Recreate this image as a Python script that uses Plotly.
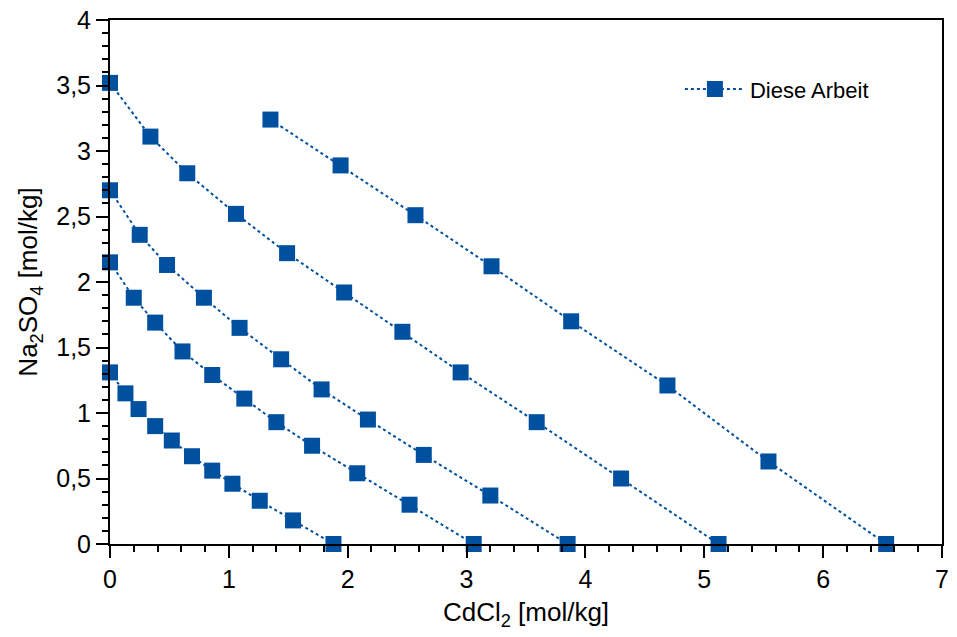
import plotly.graph_objects as go

# CdCl2 [mol/kg] (x) and Na2SO4 [mol/kg] (y) for five series
x1 = [0.00, 0.13, 0.24, 0.38, 0.52, 0.69, 0.86, 1.03, 1.26, 1.54, 1.88]
y1 = [1.31, 1.15, 1.03, 0.90, 0.79, 0.67, 0.56, 0.46, 0.33, 0.18, 0.00]

x2 = [0.00, 0.20, 0.38, 0.61, 0.86, 1.13, 1.40, 1.70, 2.08, 2.52, 3.06]
y2 = [2.15, 1.88, 1.69, 1.47, 1.29, 1.11, 0.93, 0.75, 0.54, 0.30, 0.00]

x3 = [0.00, 0.25, 0.48, 0.79, 1.09, 1.44, 1.78, 2.17, 2.64, 3.20, 3.85]
y3 = [2.70, 2.36, 2.13, 1.88, 1.65, 1.41, 1.18, 0.95, 0.68, 0.37, 0.00]

x4 = [0.00, 0.34, 0.65, 1.06, 1.49, 1.97, 2.46, 2.95, 3.59, 4.30, 5.12]
y4 = [3.52, 3.11, 2.83, 2.52, 2.22, 1.92, 1.62, 1.31, 0.93, 0.50, 0.00]

x5 = [1.35, 1.94, 2.57, 3.21, 3.88, 4.69, 5.54, 6.53]
y5 = [3.24, 2.89, 2.51, 2.12, 1.70, 1.21, 0.63, 0.00]

series_name = "Diese Arbeit"
color = "#0050A0"
FONT = "Liberation Sans, Arial, sans-serif"

fig = go.Figure()
for i, (xs, ys) in enumerate([(x1, y1), (x2, y2), (x3, y3), (x4, y4), (x5, y5)]):
    fig.add_trace(go.Scatter(
        x=xs, y=ys, mode="lines+markers", name=series_name,
        showlegend=(i == 0), legendgroup="a",
        line=dict(color=color, width=2, dash="dot"),
        marker=dict(symbol="square", size=16, color=color, line=dict(width=0)),
        cliponaxis=False,
    ))

axis_common = dict(
    showgrid=False, zeroline=False, showline=True, linecolor="black",
    linewidth=2, mirror=True, ticks="outside", tickcolor="black",
    ticklen=12, tickwidth=1.5, automargin=False,
    tickfont=dict(family=FONT, size=25, color="black"),
)

fig.update_layout(
    width=957, height=637,
    paper_bgcolor="white", plot_bgcolor="white",
    margin=dict(l=110, r=15, t=20, b=93),
    separators=", ",
    font=dict(family=FONT, color="black"),
    xaxis=dict(range=[0, 7], dtick=1, tick0=0,
               minor=dict(dtick=0.2, tick0=0, ticks="outside", ticklen=6, tickcolor="black"),
               title=dict(text="CdCl<sub>2</sub> [mol/kg]", font=dict(family=FONT, size=26), standoff=11),
               **axis_common),
    yaxis=dict(range=[0, 4], dtick=0.5, tick0=0,
               minor=dict(dtick=0.1, tick0=0, ticks="outside", ticklen=6, tickcolor="black"),
               title=dict(text="Na<sub>2</sub>SO<sub>4</sub> [mol/kg]", font=dict(family=FONT, size=26), standoff=11),
               **axis_common),
    legend=dict(x=0.685, y=0.868, xanchor="left", yanchor="middle", itemwidth=60,
                bgcolor="rgba(0,0,0,0)", font=dict(family=FONT, size=22, color="black")),
)

fig.write_html("out.html", config={"displayModeBar": False},
               post_script="document.body.style.margin='0';document.body.style.padding='0';")
